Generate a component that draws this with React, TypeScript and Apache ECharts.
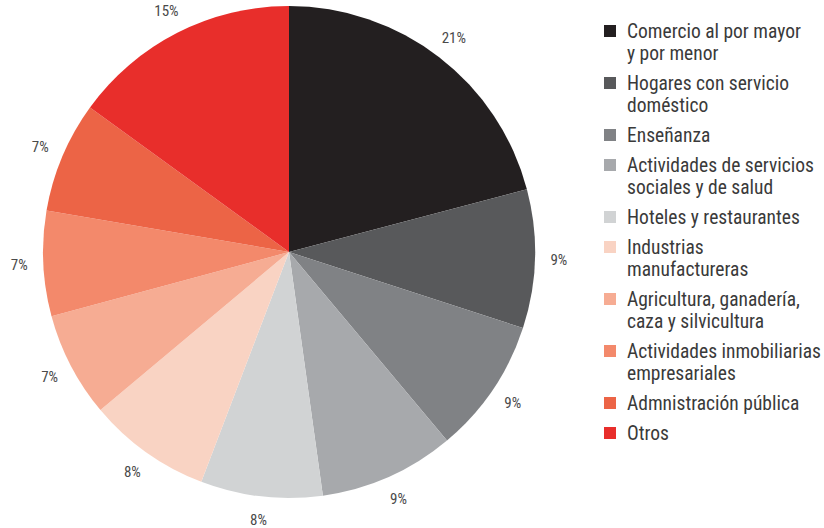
import React, { useEffect, useRef } from "react";
import * as echarts from "echarts";

const categories = [
  "Comercio al por mayor\ny por menor",
  "Hogares con servicio\ndoméstico",
  "Enseñanza",
  "Actividades de servicios\nsociales y de salud",
  "Hoteles y restaurantes",
  "Industrias\nmanufactureras",
  "Agricultura, ganadería,\ncaza y silvicultura",
  "Actividades inmobiliarias\nempresariales",
  "Admnistración pública",
  "Otros",
];
// shares (labels show them rounded)
const values = [20.9, 9.1, 8.9, 8.9, 8.0, 8.1, 6.9, 6.9, 7.3, 15.0];
const colors = [
  "#231f20",
  "#58595b",
  "#808285",
  "#a7a9ac",
  "#d1d3d4",
  "#f9d3c3",
  "#f6ac93",
  "#f3896b",
  "#ec6446",
  "#e82e2b",
];

const FONT = "'Liberation Sans Narrow', 'Arial Narrow', 'Roboto Condensed', sans-serif";

export default function App() {
  const ref = useRef<HTMLDivElement>(null);
  useEffect(() => {
    if (!ref.current) return;
    const chart = echarts.init(ref.current, undefined, { renderer: "svg" });
    const rich: Record<string, any> = {
      g: { width: 11, lineHeight: 22 },
      p: { width: 23, lineHeight: 22 },
      t: { fontSize: 19.5, lineHeight: 22, fontFamily: FONT, color: "#3a3a3a" },
    };
    colors.forEach((c, i) => {
      rich["s" + i] = { width: 12, height: 12, backgroundColor: c, lineHeight: 22 };
    });
    const data = categories.map((name, i) => ({
      name,
      value: values[i],
      itemStyle: { color: colors[i] },
    }));
    chart.setOption({
      animation: false,
      backgroundColor: "#ffffff",
      legend: {
        orient: "vertical",
        left: 599,
        top: 20,
        padding: 0,
        itemWidth: 0,
        itemHeight: 0,
        itemGap: 8,
        icon: "rect",
        selectedMode: false,
        data: categories,
        formatter: (name: string) => {
          const i = categories.indexOf(name);
          return name
            .split("\n")
            .map((l, k) => (k === 0 ? `{s${i}| }{g| }{t|${l}}` : `{p| }{t|${l}}`))
            .join("\n");
        },
        textStyle: { fontSize: 19.5, lineHeight: 22, fontFamily: FONT, color: "#3a3a3a", rich },
      },
      series: [
        {
          type: "pie",
          center: [289, 252],
          radius: 246,
          startAngle: 90,
          clockwise: true,
          label: { show: false },
          labelLine: { show: false },
          emphasis: { disabled: true },
          itemStyle: { borderWidth: 0 },
          data,
        },
        {
          type: "pie",
          center: [289, 252],
          radius: [246, 288],
          startAngle: 90,
          clockwise: true,
          silent: true,
          emphasis: { disabled: true },
          itemStyle: { color: "rgba(0,0,0,0)", borderWidth: 0 },
          label: {
            show: true,
            position: "inside",
            formatter: (p: any) => Math.round(p.value) + "%",
            fontSize: 15,
            lineHeight: 15,
            fontFamily: FONT,
            color: "#4a4a4a",
          },
          labelLine: { show: false },
          data: categories.map((name, i) => ({ name, value: values[i] })),
        },
      ],
    });
    return () => chart.dispose();
  }, []);
  return (
    <div
      ref={ref}
      style={{ position: "fixed", left: 0, top: 0, width: 824, height: 528, background: "#fff" }}
    />
  );
}
